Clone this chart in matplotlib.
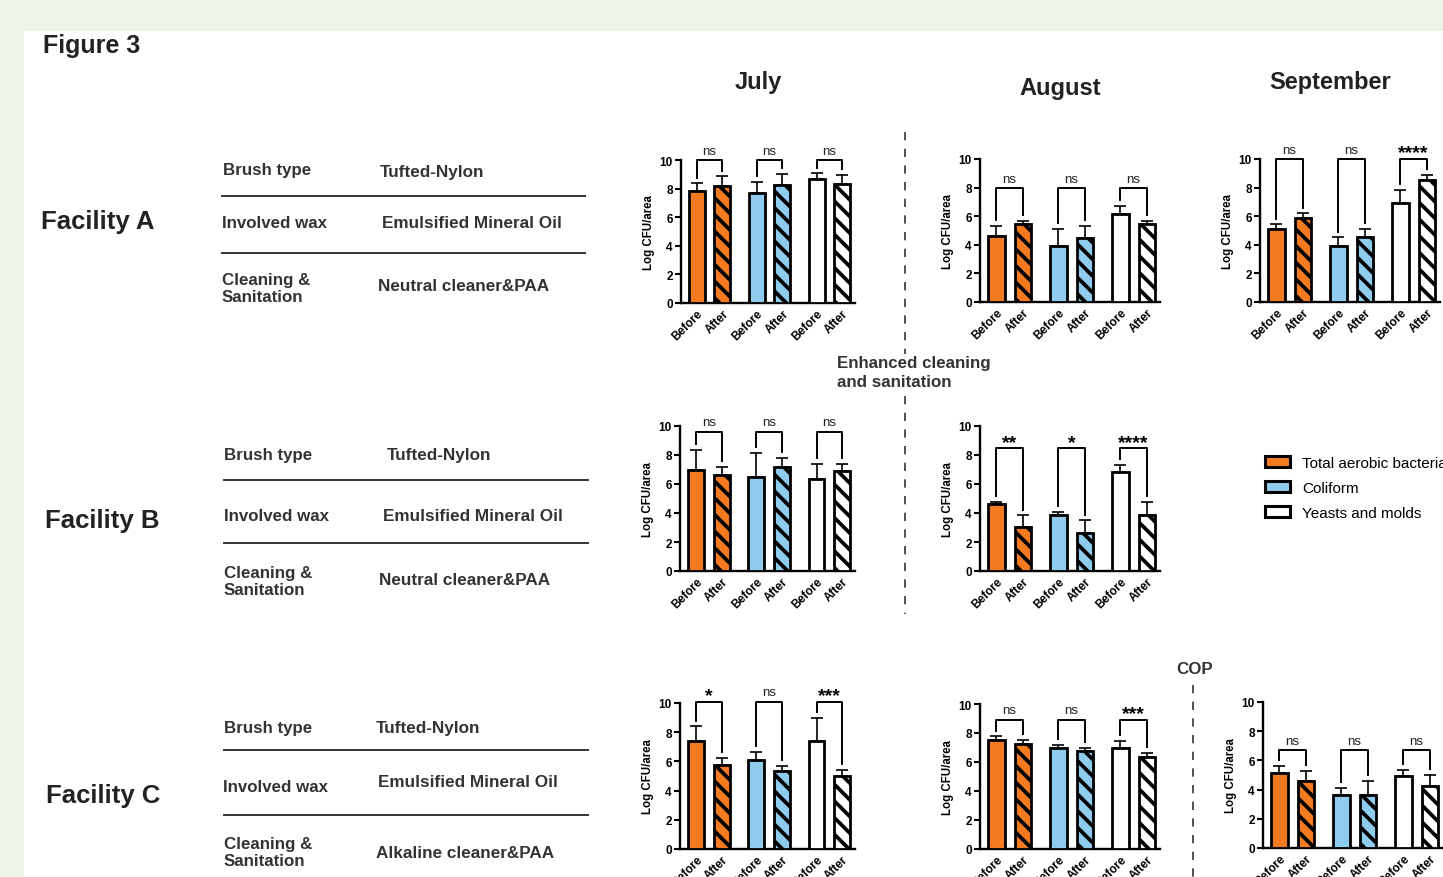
import numpy as np
import matplotlib
matplotlib.use('Agg')
import matplotlib.pyplot as plt
from matplotlib.patches import Rectangle, Patch

plt.rcParams['font.family'] = ['Liberation Sans', 'DejaVu Sans']
plt.rcParams['hatch.linewidth'] = 2.7

W, H = 1443, 878

# ---- data ----
# bar order: TAB before, TAB after, Coliform before, Coliform after, Y&M before, Y&M after
a_jul_mean = [7.86, 8.21, 7.67, 8.28, 8.67, 8.33]
a_jul_sd = [0.51, 0.65, 0.82, 0.77, 0.40, 0.62]
a_jul_sig = ['ns', 'ns', 'ns']
a_aug_mean = [4.65, 5.42, 3.95, 4.49, 6.16, 5.42]
a_aug_sd = [0.65, 0.23, 1.17, 0.84, 0.58, 0.23]
a_aug_sig = ['ns', 'ns', 'ns']
a_sep_mean = [5.07, 5.86, 3.95, 4.58, 6.93, 8.55]
a_sep_sd = [0.35, 0.34, 0.58, 0.54, 0.91, 0.33]
a_sep_sig = ['ns', 'ns', '****']
b_jul_mean = [6.94, 6.60, 6.50, 7.17, 6.32, 6.90]
b_jul_sd = [1.40, 0.57, 1.66, 0.65, 1.08, 0.46]
b_jul_sig = ['ns', 'ns', 'ns']
b_aug_mean = [4.60, 3.06, 3.84, 2.60, 6.85, 3.84]
b_aug_sd = [0.16, 0.78, 0.23, 0.89, 0.44, 0.92]
b_aug_sig = ['**', '*', '****']
c_jul_mean = [7.39, 5.72, 6.13, 5.31, 7.39, 4.99]
c_jul_sd = [1.01, 0.50, 0.51, 0.37, 1.58, 0.43]
c_jul_sig = ['*', 'ns', '***']
c_aug_mean = [7.54, 7.24, 6.97, 6.74, 6.97, 6.37]
c_aug_sd = [0.23, 0.30, 0.20, 0.23, 0.46, 0.25]
c_aug_sig = ['ns', 'ns', '***']
c_sep_mean = [5.14, 4.60, 3.63, 3.60, 4.91, 4.22]
c_sep_sd = [0.46, 0.67, 0.47, 1.00, 0.46, 0.76]
c_sep_sig = ['ns', 'ns', 'ns']

bar_labels = ['Before', 'After'] * 3
groups = ['Total aerobic bacteria', 'Coliform', 'Yeasts and molds']
colors = ['#F47A20', '#8ECBEC', '#FFFFFF']

months = ['July', 'August', 'September']
facilities = ['Facility A', 'Facility B', 'Facility C']
row_names = ['Brush type', 'Involved wax', 'Cleaning &\nSanitation']
brush = ['Tufted-Nylon', 'Tufted-Nylon', 'Tufted-Nylon']
wax = ['Emulsified Mineral Oil', 'Emulsified Mineral Oil', 'Emulsified Mineral Oil']
cleaning = ['Neutral cleaner&PAA', 'Neutral cleaner&PAA', 'Alkaline cleaner&PAA']

# panels: data, bracket level, pixel box (left, right, top, zero)
panels = [
    (a_jul_mean, a_jul_sd, a_jul_sig, 10.0, (681, 855, 161, 304)),
    (a_aug_mean, a_aug_sd, a_aug_sig, 7.95, (980, 1160, 160, 303)),
    (a_sep_mean, a_sep_sd, a_sep_sig, 10.0, (1260, 1440, 160, 303)),
    (b_jul_mean, b_jul_sd, b_jul_sig, 9.6, (680, 855, 427, 572)),
    (b_aug_mean, b_aug_sd, b_aug_sig, 8.46, (980, 1160, 427, 572)),
    (c_jul_mean, c_jul_sd, c_jul_sig, 10.1, (680, 855, 704, 850)),
    (c_aug_mean, c_aug_sd, c_aug_sig, 8.92, (980, 1160, 705, 850)),
    (c_sep_mean, c_sep_sd, c_sep_sig, 6.7, (1263, 1443, 703, 849)),
]

fig = plt.figure(figsize=(W / 100, H / 100), dpi=100, facecolor='#EEF4E6')

# overlay axes in pixel coordinates for the text / table
ov = fig.add_axes([0, 0, 1, 1])
ov.set_xlim(0, W)
ov.set_ylim(H, 0)
ov.axis('off')
ov.add_patch(Rectangle((24, 32), W - 24, H - 32, facecolor='white', edgecolor='none'))

txt = '#222222'
ov.text(43, 46, 'Figure 3', fontsize=18, fontweight='bold', color=txt, va='center')
for m, (x, y) in zip(months, [(758, 83), (1060, 88), (1330, 82)]):
    ov.text(x, y, m, fontsize=17, fontweight='bold', color=txt, ha='center', va='center')

table_layout = [
    dict(label=(41, 222), rows=[(223, 170, 380, 173), (222, 224, 382, 224), (222, 289, 378, 287)],
         lines=[(222, 585, 197), (222, 585, 254)]),
    dict(label=(45, 521), rows=[(224, 456, 387, 456), (224, 517, 383, 517), (224, 582, 379, 581)],
         lines=[(224, 588, 481), (224, 588, 544)]),
    dict(label=(46, 796), rows=[(224, 729, 376, 729), (223, 788, 378, 783), (224, 853, 376, 854)],
         lines=[(224, 588, 751), (224, 588, 816)]),
]
for i, lay in enumerate(table_layout):
    ov.text(*lay['label'], facilities[i], fontsize=18.5, fontweight='bold', color=txt, va='center')
    values = [brush[i], wax[i], cleaning[i]]
    for (xn, yn, xv, yv), name, val in zip(lay['rows'], row_names, values):
        ov.text(xn, yn, name, fontsize=12.2, fontweight='bold', color='#333333', va='center', linespacing=1.2)
        ov.text(xv, yv, val, fontsize=12.3, fontweight='bold', color='#333333', va='center')
    for x0, x1, y in lay['lines']:
        ov.plot([x0, x1], [y, y], color='#333333', lw=1.4)

# dashed separators and notes
ov.plot([905, 905], [133, 355], color='#333333', lw=1.2, ls=(0, (5, 5)))
ov.plot([905, 905], [397, 615], color='#333333', lw=1.2, ls=(0, (5, 5)))
ov.text(837, 373, 'Enhanced cleaning\nand sanitation', fontsize=12.2, fontweight='bold',
        color='#333333', va='center', linespacing=1.3)
ov.text(1176, 670, 'COP', fontsize=12.2, fontweight='bold', color='#333333', va='center')
ov.plot([1193, 1193], [686, 878], color='#333333', lw=1.2, ls=(0, (5, 5)))

# legend
handles = [Patch(facecolor=c, edgecolor='black', linewidth=2.2) for c in colors]
ov.legend(handles, groups, loc='upper left', bbox_to_anchor=(1259, 451), bbox_transform=ov.transData,
          frameon=False, fontsize=11, handlelength=1.6, handleheight=0.75, labelspacing=0.72,
          handletextpad=0.8, borderaxespad=0)

pos = np.array([0, 1, 2.35, 3.35, 4.7, 5.7])

for mean, sd, sig, level, (xl, xr, yt, yz) in panels:
    ax = fig.add_axes([xl / W, 1 - yz / H, (xr - xl) / W, (yz - yt) / H])
    ax.patch.set_alpha(0)
    mean = np.array(mean)
    sd = np.array(sd)
    for k in range(6):
        g = k // 2
        ax.bar(pos[k], mean[k], width=0.62, color=colors[g], edgecolor='black', linewidth=2.0,
               hatch='\\\\' if k % 2 else None, zorder=3)
    ax.errorbar(pos, mean, yerr=[np.zeros(6), sd], fmt='none', ecolor='black', elinewidth=1.2,
                capsize=4, capthick=1.2, zorder=2)
    for g in range(3):
        x0, x1 = pos[2 * g], pos[2 * g + 1]
        b0 = min(mean[2 * g] + sd[2 * g] + 0.4, level - 0.2)
        b1 = min(mean[2 * g + 1] + sd[2 * g + 1] + 0.4, level - 0.2)
        ax.plot([x0, x0, x1, x1], [b0, level, level, b1], color='black', lw=1.4, clip_on=False)
        if sig[g] == 'ns':
            ax.text((x0 + x1) / 2, level + 0.45, 'ns', ha='center', va='baseline', fontsize=9.5,
                    color='#222222', clip_on=False)
        else:
            ax.text((x0 + x1) / 2, level + 0.1, sig[g], ha='center', va='baseline', fontsize=14,
                    fontweight='bold', color='black', clip_on=False)
    ax.set_xlim(-0.62, 6.2)
    ax.set_ylim(0, 10)
    ax.set_yticks([0, 2, 4, 6, 8, 10])
    ax.set_xticks(pos)
    ax.set_xticklabels(bar_labels, rotation=45, ha='right', rotation_mode='anchor',
                       fontsize=8.5, fontweight='bold')
    for lab in ax.get_yticklabels():
        lab.set_fontweight('bold')
    ax.tick_params(axis='y', labelsize=8.5, width=1.5, length=4, pad=2)
    ax.tick_params(axis='x', length=0, pad=3)
    ax.set_ylabel('Log CFU/area', fontsize=8.3, fontweight='bold', labelpad=3)
    for s in ['top', 'right']:
        ax.spines[s].set_visible(False)
    for s in ['left', 'bottom']:
        ax.spines[s].set_linewidth(1.7)

fig.savefig('out.png', dpi=100, facecolor=fig.get_facecolor())
